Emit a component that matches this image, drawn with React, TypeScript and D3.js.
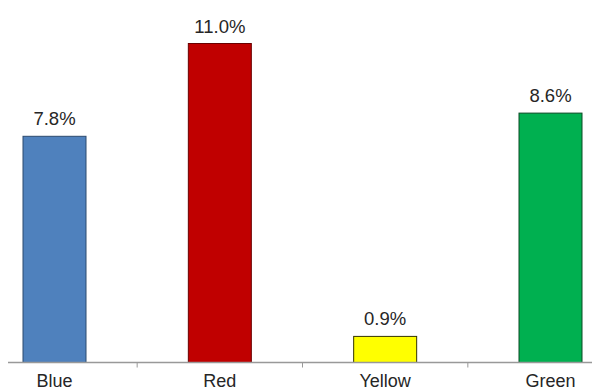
import React from "react";
import * as d3 from "d3";

const categories = ["Blue", "Red", "Yellow", "Green"];
const values = [7.8, 11.0, 0.9, 8.6];
const colors = ["#4F81BD", "#C00000", "#FFFF00", "#00B050"];
const strokes = ["#2c4a6e", "#6a0000", "#333300", "#0b4a25"];

export default function App() {
  const W = 592, H = 392;
  const x = d3.scalePoint<string>().domain(categories).range([54.5, 550.5]);
  const step = x.step();
  const barW = 63;
  const y = d3.scaleLinear().domain([0, 12]).range([362.5, 14.5]);
  const ticks = categories.slice(0, -1).map((c) => (x(c) as number) + step / 2);
  const font = "Liberation Sans, Arial, sans-serif";
  return (
    <svg width={W} height={H} style={{ position: "absolute", left: 0, top: 0, background: "#fff" }}>
      {values.map((v, i) => {
        const cx = x(categories[i]) as number;
        return (
          <g key={i}>
            <rect x={cx - barW / 2} y={y(v)} width={barW} height={y(0) - y(v)} fill={colors[i]} stroke={strokes[i]} strokeWidth={1} />
            <text x={cx} y={y(v) - 11} textAnchor="middle" fontFamily={font} fontSize={18.5} fill="#262626">
              {v.toFixed(1)}%
            </text>
            <text x={cx} y={387} textAnchor="middle" fontFamily={font} fontSize={18} fill="#262626">
              {categories[i]}
            </text>
          </g>
        );
      })}
      <line x1={8} x2={592} y1={y(0)} y2={y(0)} stroke="#999" strokeWidth={1.5} />
      {ticks.map((t, i) => (
        <line key={i} x1={t} x2={t} y1={y(0)} y2={y(0) + 5} stroke="#999" strokeWidth={1} />
      ))}
    </svg>
  );
}
